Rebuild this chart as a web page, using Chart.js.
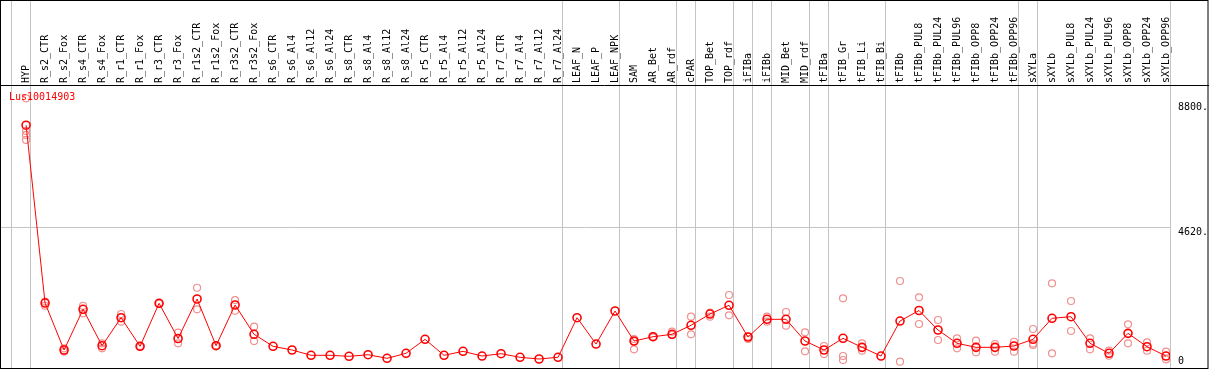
<!DOCTYPE html>
<html>
<head>
<meta charset="utf-8">
<script src="https://cdn.jsdelivr.net/npm/chart.js@4.4.1/dist/chart.umd.min.js"></script>
<style>
  html, body { margin: 0; padding: 0; background: #fff; }
</style>
</head>
<body>
<canvas id="expr" width="1209" height="370"></canvas>
<script>
const geneName = 'Lus10014903';

const categories = [
  'HYP',
  'R_s2_CTR', 'R_s2_Fox', 'R_s4_CTR', 'R_s4_Fox', 'R_r1_CTR', 'R_r1_Fox', 'R_r3_CTR', 'R_r3_Fox',
  'R_r1s2_CTR', 'R_r1s2_Fox', 'R_r3s2_CTR', 'R_r3s2_Fox',
  'R_s6_CTR', 'R_s6_Al4', 'R_s6_Al12', 'R_s6_Al24', 'R_s8_CTR', 'R_s8_Al4', 'R_s8_Al12', 'R_s8_Al24',
  'R_r5_CTR', 'R_r5_Al4', 'R_r5_Al12', 'R_r5_Al24', 'R_r7_CTR', 'R_r7_Al4', 'R_r7_Al12', 'R_r7_Al24',
  'LEAF_N', 'LEAF_P', 'LEAF_NPK',
  'SAM', 'AR_Bet', 'AR_rdf',
  'cPAR', 'TOP_Bet', 'TOP_rdf',
  'iFIBa', 'iFIBb', 'MID_Bet', 'MID_rdf',
  'tFIBa', 'tFIB_Gr', 'tFIB_Li', 'tFIB_Bi',
  'tFIBb', 'tFIBb_PUL8', 'tFIBb_PUL24', 'tFIBb_PUL96', 'tFIBb_OPP8', 'tFIBb_OPP24', 'tFIBb_OPP96',
  'sXYLa', 'sXYLb', 'sXYLb_PUL8', 'sXYLb_PUL24', 'sXYLb_PUL96', 'sXYLb_OPP8', 'sXYLb_OPP24', 'sXYLb_OPP96'
];

// index of the first category of each group (last one = end of the axis)
const groupStarts = [0, 1, 29, 32, 35, 36, 38, 39, 40, 42, 43, 46, 53, 54, 61];

// mean expression
const means = [
  8070,
  2100, 524, 1890, 668, 1608, 648, 2092, 910,
  2236, 668, 2035, 1051,
  648, 524, 346, 346, 312, 366, 245, 413,
  883, 346, 480, 322, 400, 279, 222, 279,
  1608, 725, 1833,
  826, 970, 1051,
  1353, 1732, 2025,
  960, 1554, 1554, 826,
  524, 917, 614, 322,
  1497, 1850, 1195, 749, 614, 614, 658,
  883, 1588, 1642, 749, 413, 1084, 635, 322
];

// single replicates
const replicates = [
  [8973, 7877, 7743, 7575],
  [2150, 2010], [580, 466], [2010, 1756], [749, 581], [1732, 1474], [660, 630], [2100, 2080], [1105, 749],
  [2614, 1890], [680, 655], [2200, 1840], [1306, 823],
  [], [], [], [], [], [], [], [],
  [], [], [], [], [], [], [], [],
  [], [], [],
  [893, 820, 547], [980, 950], [1138, 1027],
  [1642, 1051], [1776, 1642], [2370, 1689],
  [975, 893], [1642, 1474], [1800, 1340], [1118, 480],
  [658, 389], [2259, 322, 188], [749, 500], [],
  [2840, 131], [2293, 1397], [1531, 860], [917, 581], [836, 447], [725, 467], [802, 467],
  [1229, 740, 692], [2763, 413], [2169, 1162], [917, 547], [500, 332], [1387, 749], [782, 500], [467, 212]
];

const yTicks = [0, 4620, 8800];

const meanPoints = means.map((v, i) => ({x: i, y: v}));
const repPoints = replicates.flatMap((arr, i) => arr.map(v => ({x: i, y: v})));

const monoFont = {family: 'DejaVu Sans Mono', size: 10};

// frame, group separators and gene name
const framePlugin = {
  id: 'framePlugin',
  beforeDatasetsDraw(chart) {
    const {ctx, chartArea} = chart;
    const x = chart.scales.x;
    ctx.save();
    ctx.strokeStyle = '#c4c4c4';
    ctx.lineWidth = 1;
    groupStarts.forEach(i => {
      const px = Math.round(x.getPixelForValue(i - 0.79)) + 0.5;
      ctx.beginPath();
      ctx.moveTo(px, 0);
      ctx.lineTo(px, chartArea.bottom);
      ctx.stroke();
    });
    ctx.restore();
  },
  afterDraw(chart) {
    const {ctx, chartArea, width} = chart;
    ctx.save();
    ctx.strokeStyle = '#000';
    ctx.lineWidth = 1;
    ctx.strokeRect(0.5, 0.5, width - 1.5, chartArea.bottom);
    ctx.beginPath();
    ctx.moveTo(0, chartArea.top + 0.5);
    ctx.lineTo(width, chartArea.top + 0.5);
    ctx.stroke();
    ctx.fillStyle = '#ff0000';
    ctx.font = '10px "DejaVu Sans Mono"';
    ctx.textBaseline = 'middle';
    ctx.fillText(chart.data.datasets[0].label, chartArea.left + 8, chartArea.top + 12);
    ctx.restore();
  }
};

const exprCtx = document.getElementById('expr').getContext('2d');
const expr = new Chart(exprCtx, {
  type: 'line',
  data: {
    datasets: [{
      label: geneName,
      data: meanPoints,
      borderColor: '#ff0000',
      borderWidth: 1,
      pointRadius: 4,
      pointBorderWidth: 1.6,
      pointBorderColor: '#ff0000',
      pointBackgroundColor: 'rgba(0,0,0,0)',
      tension: 0,
      order: 0
    }, {
      label: 'replicates',
      data: repPoints,
      showLine: false,
      pointRadius: 3.5,
      pointBorderWidth: 1.2,
      pointBorderColor: '#f09090',
      pointBackgroundColor: 'rgba(0,0,0,0)',
      order: 1
    }]
  },
  options: {
    responsive: false,
    animation: false,
    devicePixelRatio: 1,
    layout: {autoPadding: false, padding: {left: 1, right: 1, top: 1, bottom: 2}},
    plugins: {
      legend: {display: false},
      tooltip: {enabled: false}
    },
    scales: {
      x: {
        type: 'linear',
        position: 'top',
        min: -1.32,
        max: 60.21,
        grid: {display: false, drawTicks: false},
        border: {display: false},
        afterBuildTicks: s => { s.ticks = categories.map((c, i) => ({value: i})); },
        afterFit: s => {
          s.height = 84;
          s.paddingLeft = 0;
          s.paddingRight = 0;
        },
        ticks: {
          autoSkip: false,
          minRotation: 90,
          maxRotation: 90,
          padding: 2,
          labelOffset: 12,
          color: '#000',
          font: monoFont,
          callback: v => categories[v]
        }
      },
      y: {
        type: 'linear',
        position: 'right',
        min: -80,
        max: 9420,
        border: {display: false},
        grid: {
          drawTicks: false,
          color: c => (c.tick && c.tick.value === 4620) ? '#c4c4c4' : 'rgba(0,0,0,0)'
        },
        afterBuildTicks: s => { s.ticks = yTicks.map(v => ({value: v})); },
        afterFit: s => {
          s.width = 38;
          s.paddingTop = 0;
          s.paddingBottom = 0;
        },
        ticks: {
          padding: 8,
          color: '#000',
          font: {family: 'DejaVu Sans Mono', size: 10, lineHeight: 0.8},
          // labels sit just under their line, the bottom one just above
          callback: v => v === 0 ? ['0', ''] : ['', v + '.']
        }
      }
    }
  },
  plugins: [framePlugin]
});
</script>
</body>
</html>
